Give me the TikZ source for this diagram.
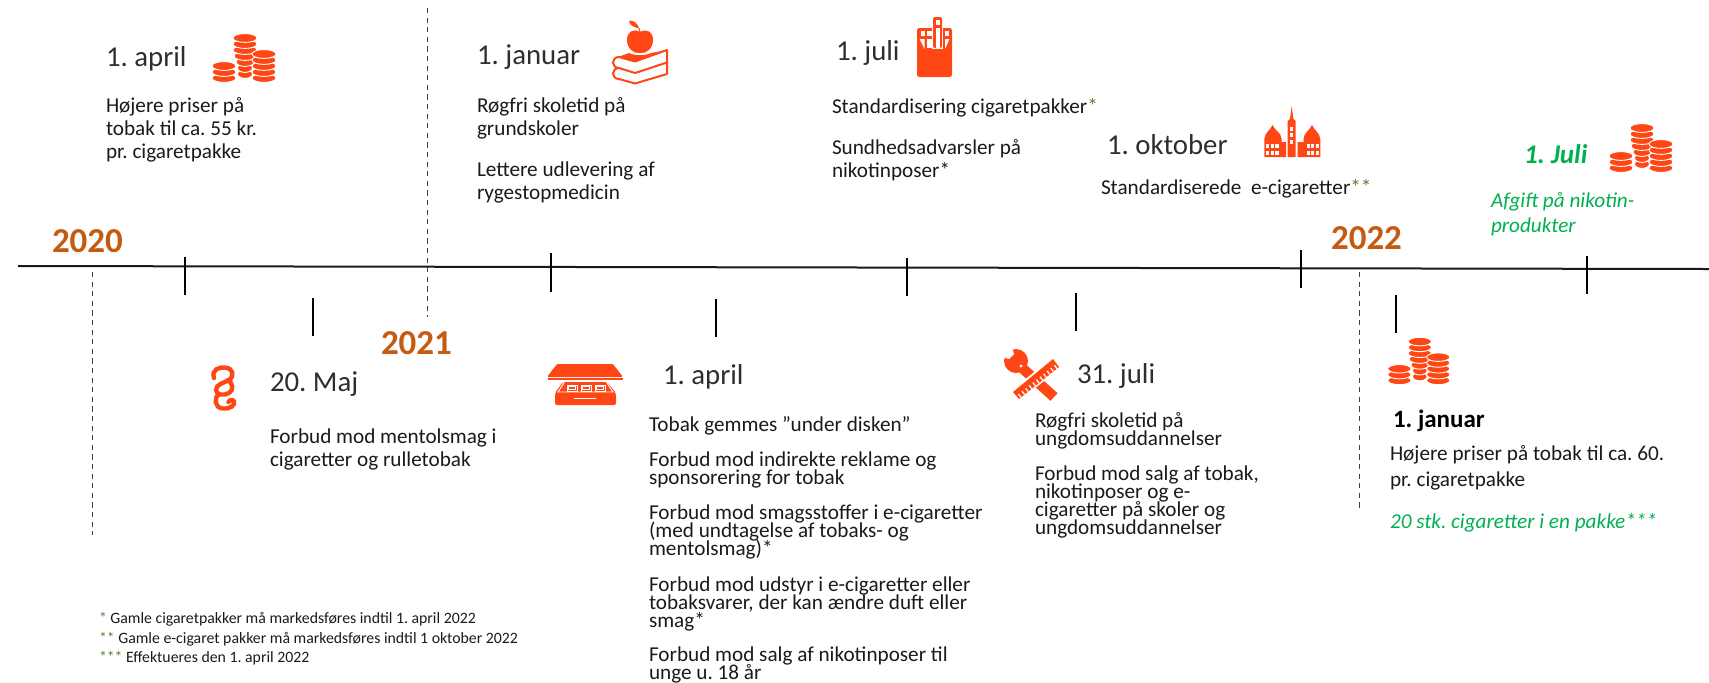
\documentclass[tikz,border=0pt]{standalone}
\usepackage{fontspec}
\setmainfont{Carlito}
\frenchspacing
\lineskiplimit=-10pt
\normallineskiplimit=-10pt
\usetikzlibrary{calc}
\definecolor{icon}{HTML}{FF4716}
\definecolor{yr}{HTML}{C55A11}
\definecolor{grn}{HTML}{00B050}
\definecolor{star}{HTML}{548235}
\definecolor{ink}{HTML}{1A1A1A}
\definecolor{light}{HTML}{2E2E2E}
\tikzset{
  base/.style={inner sep=0pt,outer sep=0pt,anchor=base west,align=left,text=ink},
  datetxt/.style={base,text=light,font=\fontsize{14.4}{16}\selectfont},
  yeartxt/.style={base,text=yr,font=\fontsize{17.5}{20}\selectfont\bfseries},
  bodyA/.style={base,font=\fontsize{10.6}{11.3}\selectfont},
  bodyB/.style={base,font=\fontsize{10.6}{9}\selectfont},
  gtxt/.style={base,text=grn,font=\fontsize{10.6}{12.5}\selectfont\itshape},
  foot/.style={base,font=\fontsize{7.9}{10}\selectfont},
  axisline/.style={line width=1pt,black!90},
  tick/.style={line width=.75pt,black},
  dashln/.style={line width=.4pt,black!75,dash pattern=on 2.6pt off 2.2pt},
  coins/.pic={
    \foreach \yy/\rr in {49/7.5,43/7.5,37/9,31/11,25/12,19/12,13/12}
      \filldraw[fill=icon,draw=white,line width=.45pt] (40,\yy) ellipse [x radius=\rr,y radius=4.4];
    \foreach \yy in {53,47,41,35,29}
      \filldraw[fill=icon,draw=white,line width=.45pt] (59,\yy) ellipse [x radius=12,y radius=4.4];
    \foreach \yy in {53,47,41}
      \filldraw[fill=icon,draw=white,line width=.45pt] (19,\yy) ellipse [x radius=12,y radius=4.4];
  },
  applebooks/.pic={
    \fill[icon] (35,17) .. controls (28,13) and (22,17) .. (22,25) .. controls (22,33) and (28,39) .. (35,38) .. controls (42,39) and (48,33) .. (48,25) .. controls (48,17) and (42,13) .. (35,17) -- cycle;
    \fill[icon] (24,6) .. controls (28,4) and (33,9) .. (34,13) .. controls (29,13) and (25,10) .. (24,6) -- cycle;
    \draw[icon,line width=.6pt] (34,13) -- (35,17);
    \fill[icon] (13,42) -- (24,38) .. controls (30,41) and (40,41) .. (46,38) -- (62,35) -- (30,46) -- cycle;
    \draw[icon,line width=1pt,line join=round] (62,35) -- (30,46.5) -- (14,42) .. controls (6,42) and (6,53) .. (14,53) -- (30,58) -- (62,47.5) -- cycle;
    \draw[icon,line width=1pt,line join=round] (14,53) .. controls (6,53) and (6,64) .. (14,64) -- (30,68.5) -- (62,59) -- (62,47.5);
  },
  cigpack/.pic={
    \fill[icon,rounded corners=1.2pt] (12,18) rectangle (47,67);
    \fill[white] (14.5,29) -- (19.5,29) -- (19.5,39) -- cycle;
    \fill[white] (44.5,29) -- (40,29) -- (40,39) -- cycle;
    \fill[white] (22,29) rectangle (26.5,38);
    \fill[white] (16,21) rectangle (20,25.5);
    \fill[white] (22,21) rectangle (26.5,25.5);
    \fill[white] (39.5,21) rectangle (44,25.5);
    \fill[white] (27,17) rectangle (38,39);
    \fill[icon,rounded corners=1pt] (28,7) rectangle (37,38);
    \fill[white] (30.5,10) rectangle (34.5,15);
    \fill[white] (30.5,18) rectangle (34.5,38);
  },
  church/.pic={
    \fill[icon] (9.3,57) -- (9.3,39) .. controls (10,32) and (15,31) .. (17.5,25) .. controls (20,31) and (26,32) .. (26.7,39) -- (26.7,42) -- (31,42) -- (31,57) -- cycle;
    \fill[icon] (65.3,57) -- (65.3,39) .. controls (64.5,32) and (59.5,31) .. (57,25) .. controls (54.5,31) and (49,32) .. (48.5,39) -- (48.5,42) -- (42.5,42) -- (42.5,57) -- cycle;
    \fill[icon] (32.7,57) -- (32.7,21) -- (35,19) -- (36.7,6) -- (38.4,19) -- (40.7,21) -- (40.7,57) -- cycle;
    \foreach \yy in {29,35,41.5} \fill[white] (35.2,\yy-2) rectangle (38.2,\yy+2);
    \foreach \xx in {12.7,17.3,22,53.3,57.7,62.3} \foreach \yy in {46,52.7}
      \fill[white] (\xx-1.6,\yy-1.8) rectangle (\xx+1.6,\yy+1.8);
  },
  paragraphsign/.pic={
    \draw[icon,line width=2.2pt,line cap=round] (9,18) .. controls (6,9) and (15,7) .. (20,7.5) .. controls (28,8) and (30,16) .. (24,20) .. controls (19,23) and (11,24) .. (11,30) .. controls (11,35) and (19,36) .. (24,33) .. controls (29,30) and (28,23) .. (23,20);
    \draw[icon,line width=2.2pt,line cap=round] (14,34) .. controls (9,37) and (9,48) .. (18,48.5) .. controls (26,49) and (30,45) .. (29,41.5) .. controls (28,39) and (24,40) .. (23.5,42);
  },
  drawerbox/.pic={
    \fill[icon,rounded corners=.6pt] (17,9) -- (73,9) -- (83,22) -- (7,22) -- cycle;
    \fill[icon] (7.5,23.3) rectangle (82.5,25);
    \fill[icon,rounded corners=1pt] (23,27) -- (67,27) -- (76,38) -- (76,50) -- (15,50) -- (15,38) -- cycle;
    \foreach \xx in {27,41,55} {
      \draw[white,line width=.45pt] (\xx,30) rectangle ++(10,6);
      \draw[white,line width=.45pt] (\xx+1.6,31.5) rectangle ++(6.8,3);
    }
    \draw[white,line width=.45pt] (24,28) -- (18,37) -- (73,37) -- (67,28);
    \fill[white] (34,42.5) rectangle (56,44);
  },
  crosstools/.pic={
    \draw[icon,line width=5.2pt] (25,24) -- (59,55);
    \fill[icon] (21,19) circle [radius=12];
    \fill[white] (4,4) -- (17,6) -- (19,12) -- (14,17) -- (7,15) -- cycle;
    \fill[white] (26,24) circle [radius=1.6];
    \draw[white,line width=6.6pt] (21,53) -- (61,21);
    \fill[icon] (18,50) -- (58,17) -- (64,25) -- (24,57) -- cycle;
    \foreach \tt in {.05,.14,...,.98}
      \draw[white,line width=.6pt] ($(24,57)!\tt!(64,25)$) -- ++(-2.6,-3.4);
  },
}
\begin{document}
\begin{tikzpicture}[x=0.5pt,y=-0.5pt]
\useasboundingbox (0,0) rectangle (1709,682);
% axis
\coordinate (axisL) at (18,266);
\coordinate (axisR) at (1709,269);
\draw[axisline] (axisL) -- (axisR);
% dashed year markers
\foreach \n/\x/\a/\b in {d1/92/272/535,d2/427/8/317,d3/1359/272/509}{
  \coordinate (\n a) at (\x,\a);
  \coordinate (\n b) at (\x,\b);
  \draw[dashln] (\n a) -- (\n b);
}
% ticks
\foreach \n/\x/\a/\b in {t1/185/257/295,t2/551/253/292,t3/907/258/296,t4/1301/250/288,t5/1587/256/294,
  l1/313/298/336,l2/716/299/337,l3/1076/293/331,l4/1396/295/333}{
  \coordinate (\n a) at (\x,\a);
  \coordinate (\n b) at (\x,\b);
  \draw[tick] (\n a) -- (\n b);
}
% years
\node[yeartxt] (y2020) at (52,252) {2020};
\node[yeartxt] (y2021) at (381,354) {2021};
\node[yeartxt] (y2022) at (1331,249) {2022};
% icons
\pic at (205,25) {coins};
\pic at (1602,115) {coins};
\pic[scale=.97] at (1381,329) {coins};
\pic at (605,15) {applebooks};
\pic at (905,10) {cigpack};
\pic at (1255,100) {church};
\pic at (205,360) {paragraphsign};
\pic at (540,355) {drawerbox};
\pic at (995,342) {crosstools};
% upper dates and texts (multi-line nodes are placed by their last baseline)
\node[datetxt] (d1) at (106,66) {1. april};
\node[bodyA] (a1) at (106,158) {Højere priser på\\tobak til ca. 55 kr.\\pr. cigaretpakke};
\node[datetxt] (d2) at (477,64) {1. januar};
\node[bodyA] (a2) at (477,135) {Røgfri skoletid på\\grundskoler};
\node[bodyA] (a3) at (477,199) {Lettere udlevering af\\rygestopmedicin};
\node[datetxt] (d3) at (836,60) {1. juli};
\node[bodyA] (a4) at (832,113) {Standardisering cigaretpakker\textcolor{star}{*}};
\node[bodyA] (a5) at (832,177) {Sundhedsadvarsler på\\nikotinposer*};
\node[datetxt] (d4) at (1107,154) {1. oktober};
\node[bodyA] (a6) at (1101,194) {Standardiserede\ \ e-cigaretter\textcolor{star}{**}};
\node[datetxt,text=grn,font=\fontsize{13.5}{16}\selectfont\bfseries\itshape] (d5) at (1524,163) {1. Juli};
\node[gtxt] (a7) at (1491,232) {Afgift på nikotin-\\produkter};
% lower dates and texts
\node[datetxt] (d6) at (270,391) {20. Maj};
\node[bodyA] (b1) at (270,466) {Forbud mod mentolsmag i\\cigaretter og rulletobak};
\node[datetxt] (d7) at (663,384) {1. april};
\node[bodyB] (b2) at (649,431) {Tobak gemmes ”under disken”};
\node[bodyB] (b3) at (649,484) {Forbud mod indirekte reklame og\\sponsorering for tobak};
\node[bodyB] (b4) at (649,555) {Forbud mod smagsstoffer i e-cigaretter\\(med undtagelse af tobaks- og\\mentolsmag)*};
\node[bodyB] (b5) at (649,627) {Forbud mod udstyr i e-cigaretter eller\\tobaksvarer, der kan ændre duft eller\\smag*};
\node[bodyB] (b6) at (649,679) {Forbud mod salg af nikotinposer til\\unge u. 18 år};
\node[datetxt] (d8) at (1077,383) {31. juli};
\node[bodyB] (c1) at (1035,445) {Røgfri skoletid på\\ungdomsuddannelser};
\node[bodyB] (c2) at (1035,534) {Forbud mod salg af tobak,\\nikotinposer og e-\\cigaretter på skoler og\\ungdomsuddannelser};
\node[datetxt,text=black,font=\fontsize{12.5}{15}\selectfont\bfseries] (d9) at (1393,427) {1. januar};
\node[bodyA,font=\fontsize{10.6}{13}\selectfont] (e1) at (1390,486) {Højere priser på tobak til ca. 60.\\pr. cigaretpakke};
\node[gtxt] (e2) at (1390,528) {20 stk. cigaretter i en pakke***};
% footnotes
\node[foot] (f1) at (99,623) {\textcolor{star}{*} Gamle cigaretpakker må markedsføres indtil 1. april 2022};
\node[foot] (f2) at (99,643) {\textcolor{star}{**} Gamle e-cigaret pakker må markedsføres indtil 1 oktober 2022};
\node[foot] (f3) at (99,662) {\textcolor{star}{***} Effektueres den 1. april 2022};
\end{tikzpicture}
\end{document}
